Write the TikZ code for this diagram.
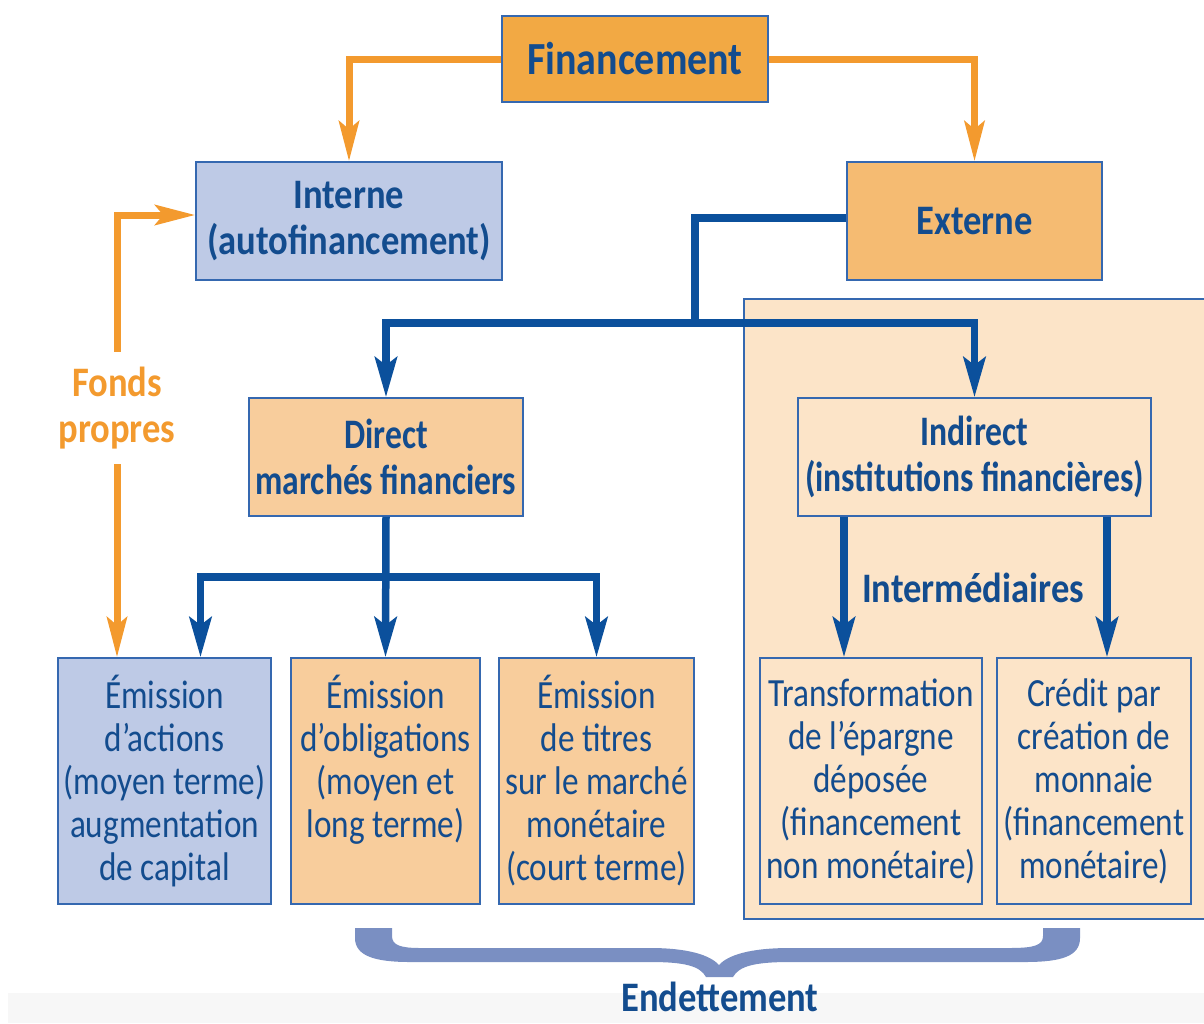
\documentclass[tikz,border=0pt]{standalone}
\usepackage{fontspec}
\setmainfont{Carlito}
\newfontfamily\cf[FakeStretch=0.8]{Carlito}
\newfontfamily\cfa[FakeStretch=0.87]{Carlito}
\newfontfamily\cfb[FakeStretch=0.83]{Carlito}
\usetikzlibrary{arrows.meta}
\definecolor{tblue}{HTML}{134C8E}
\definecolor{lblue}{HTML}{0B509C}
\definecolor{bord}{HTML}{3568B0}
\definecolor{oline}{HTML}{F39A2E}
\definecolor{finc}{HTML}{F2A944}
\definecolor{extc}{HTML}{F5BB72}
\definecolor{dirc}{HTML}{F8CD9C}
\definecolor{panc}{HTML}{FCE4C8}
\definecolor{bluec}{HTML}{BECAE6}
\definecolor{bracec}{HTML}{7A8FC2}
\definecolor{stripc}{HTML}{F7F7F7}
\tikzset{
  box/.style={draw=bord, line width=1.5pt, inner sep=0pt, align=center, text=tblue},
  title/.style={font=\cfa\bfseries\fontsize{42}{46}\selectfont},
  ntitle/.style={font=\cf\bfseries\fontsize{42}{46}\selectfont},
  body/.style={font=\cfb\fontsize{40}{43}\selectfont},
  oarrow/.style={draw=oline, line width=7pt, -{Stealth[length=40pt,width=20pt,inset=8pt]}},
  barrow/.style={draw=lblue, line width=7.5pt, -{Stealth[length=40pt,width=22pt,inset=8pt]}},
  bline/.style={draw=lblue, line width=7.5pt},
}
\begin{document}
\begin{tikzpicture}[x=1pt,y=-1pt]
\useasboundingbox (0,0) rectangle (1204,1023);
\fill[stripc] (8,993) rectangle (1204,1023);
% panel
\node[draw=bord, line width=1.5pt, fill=panc, inner sep=0pt, minimum width=470pt, minimum height=620pt, anchor=north west] (panel) at (743,298) {};
% boxes
\node[box, font=\cfa\bfseries\fontsize{46}{50}\selectfont, fill=finc, minimum width=266pt, minimum height=86pt] (fin) at (635,59) {Financement};
\node[box, title, fill=bluec, minimum width=306pt, minimum height=118pt] (int) at (349,221) {Interne\\(autofinancement)};
\node[box, title, fill=extc, minimum width=255pt, minimum height=118pt] (ext) at (974.5,221) {Externe};
\node[box, ntitle, fill=dirc, minimum width=274pt, minimum height=118pt] (dir) at (386,457) {Direct\\marchés financiers};
\node[box, ntitle, fill=panc, minimum width=353pt, minimum height=118pt] (ind) at (974.5,457) {Indirect\\(institutions financières)};
\node[box, body, fill=bluec, minimum width=213pt, minimum height=246pt] (b1) at (164.5,781) {Émission\\d’actions\\(moyen terme)\\augmentation\\de capital};
\node[box, body, fill=dirc, minimum width=189pt, minimum height=246pt] (b2) at (385.5,781) {Émission\\d’obligations\\(moyen et\\long terme)\\\vphantom{(p}};
\node[box, body, fill=dirc, minimum width=195pt, minimum height=246pt] (b3) at (596.5,781) {Émission\\de titres\\sur le marché\\monétaire\\(court terme)};
\node[box, body, fill=panc, minimum width=222pt, minimum height=246pt] (b4) at (871,781) {Transformation\\de l’épargne\\déposée\\(financement\\non monétaire)};
\node[box, body, fill=panc, minimum width=194pt, minimum height=246pt] (b5) at (1094,781) {Crédit par\\création de\\monnaie\\(financement\\monétaire)};
% labels
\node[title, text=oline, align=center, inner sep=0pt, minimum height=112pt] (fp) at (117,408) {Fonds\\propres};
\node[title, text=tblue, inner sep=0pt] (inter) at (973,588) {Intermédiaires};
\node[title, text=tblue, inner sep=0pt] (end) at (720,997) {Endettement};
% orange connectors
\draw[oarrow] (fin.west) -| (int.north);
\draw[oarrow] (fin.east) -| (ext.north);
\draw[oarrow] (fp.north) |- ([yshift=6pt]int.west);
\draw[oarrow] (fp.south) -- (fp.south |- b1.north);
% blue connectors
\coordinate (j1) at (695,323);
\draw[bline] ([yshift=3pt]ext.west) -| (j1);
\draw[barrow] (j1) -| (dir.north);
\draw[barrow] (j1) -| (ind.north);
\coordinate (j2) at (386,577);
\draw[barrow] (dir.south) -- (b2.north);
\draw[barrow] (j2) -| ([xshift=36pt]b1.north);
\draw[barrow] (j2) -| (b3.north);
\coordinate (i1) at ([xshift=-130.5pt]ind.south);
\coordinate (i2) at ([xshift=132.5pt]ind.south);
\draw[barrow] (i1) -- (i1 |- b4.north);
\draw[barrow] (i2) -- (i2 |- b5.north);
% brace
\fill[bracec]
  (355,928) -- (355,938) .. controls (355,956) and (375,962) .. (410,962)
  -- (650,962) .. controls (685,962) and (700,966) .. (706,977)
  -- (733,977) .. controls (739,966) and (755,962) .. (790,962)
  -- (1025,962) .. controls (1062,962) and (1080,956) .. (1080,938)
  -- (1080,928) -- (1043,928) -- (1043,936)
  .. controls (1043,945) and (1035,948) .. (1010,948)
  -- (790,948) .. controls (750,948) and (728,955) .. (719,965)
  .. controls (710,955) and (688,948) .. (650,948)
  -- (420,948) .. controls (400,948) and (392,945) .. (392,936)
  -- (392,928) -- cycle;
\end{tikzpicture}
\end{document}
